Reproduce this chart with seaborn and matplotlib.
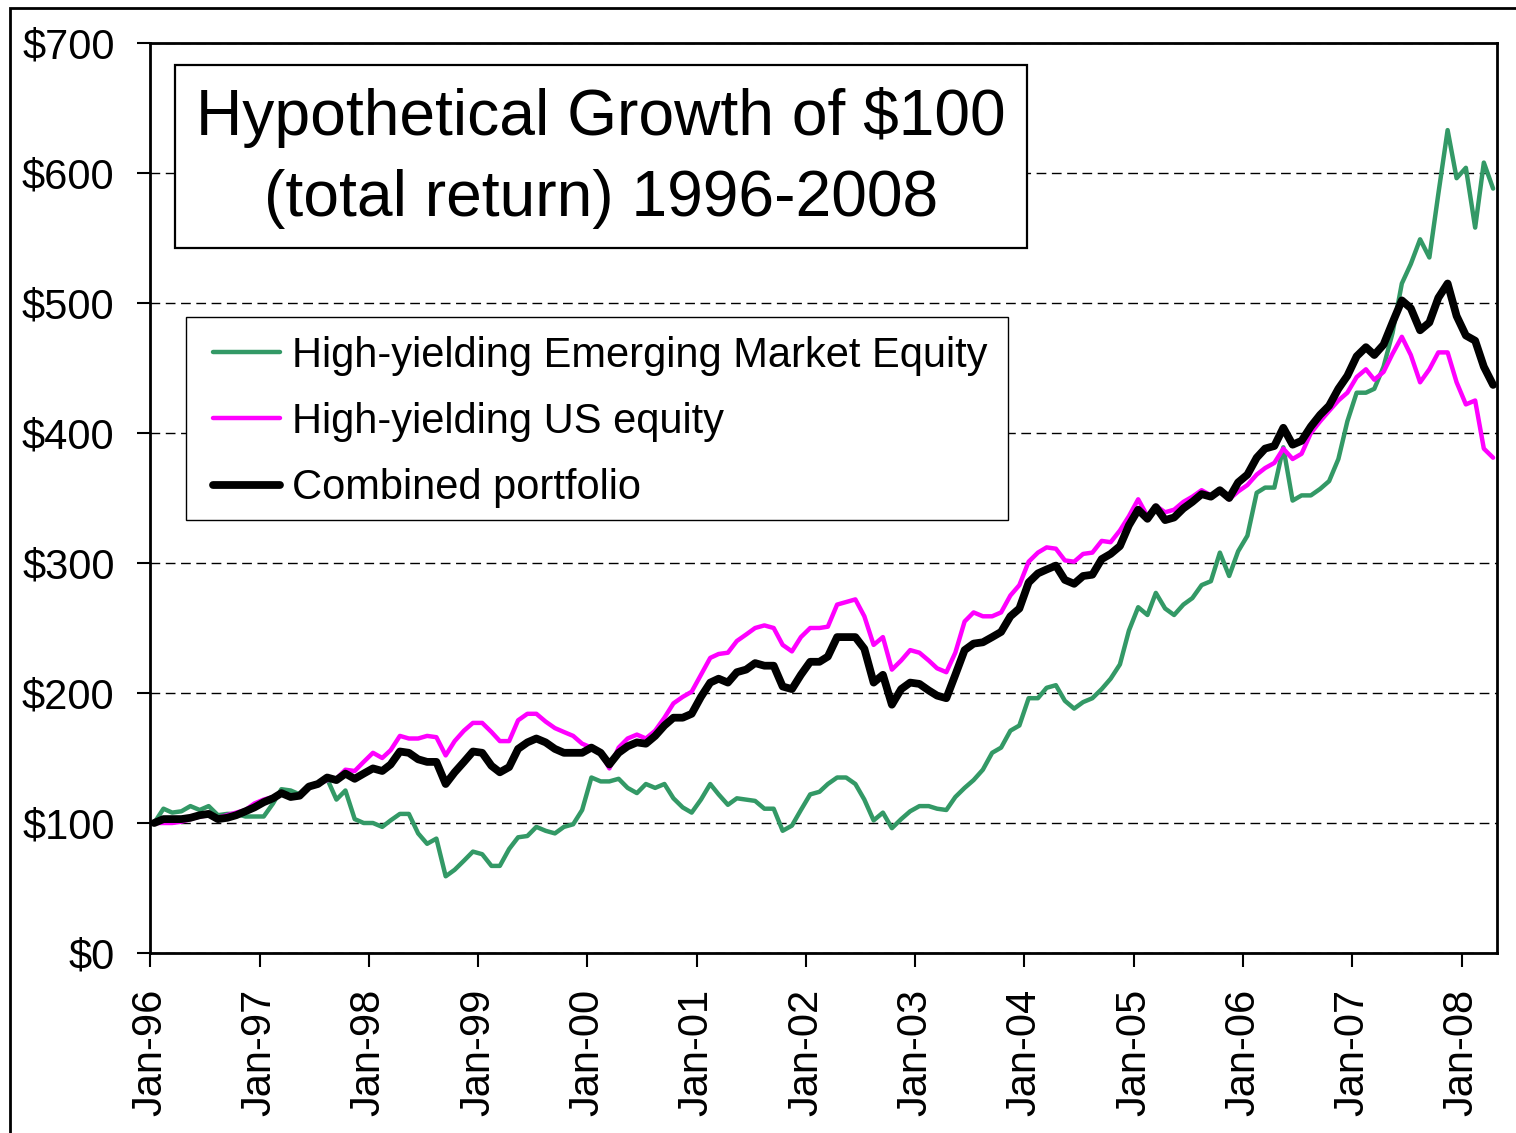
import numpy as np
import pandas as pd
import matplotlib
matplotlib.use("Agg")
import matplotlib.pyplot as plt
import matplotlib.dates as mdates
import matplotlib.patches as mpatches
import seaborn as sns

# ---------------- data ----------------
series_names = ["High-yielding Emerging Market Equity",
                "High-yielding US equity",
                "Combined portfolio"]

em_equity = [100, 111, 108, 109, 113, 110, 113, 106, 107, 107, 105, 105,
             105, 115, 126, 125, 122, 127, 130, 134, 118, 125, 103, 100,
             100, 97, 102, 107, 107, 92, 84, 88, 59, 64, 71, 78,
             76, 67, 67, 80, 89, 90, 97, 94, 92, 97, 99, 110,
             135, 132, 132, 134, 127, 123, 130, 127, 130, 119, 112, 108,
             118, 130, 122, 114, 119, 118, 117, 111, 111, 94, 98, 110,
             122, 124, 130, 135, 135, 130, 118, 102, 108, 96, 103, 109,
             113, 113, 111, 110, 120, 127, 133, 141, 154, 158, 171, 175,
             196, 196, 204, 206, 194, 188, 193, 196, 203, 211, 222, 248,
             266, 260, 277, 265, 260, 268, 273, 283, 286, 308, 290, 309,
             321, 354, 358, 358, 389, 348, 352, 352, 357, 363, 380, 409,
             431, 431, 434, 451, 477, 515, 530, 549, 535, 584, 633, 596,
             604, 558, 608, 588]

us_equity = [100, 100, 100, 101, 103, 105, 106, 104, 106, 108, 110, 115,
             118, 120, 122, 120, 121, 128, 130, 133, 134, 141, 140, 147,
             154, 150, 156, 167, 165, 165, 167, 166, 152, 163, 171, 177,
             177, 170, 163, 163, 179, 184, 184, 178, 173, 170, 167, 161,
             158, 154, 142, 158, 165, 168, 165, 171, 181, 192, 197, 201,
             214, 227, 230, 231, 240, 245, 250, 252, 250, 237, 232, 243,
             250, 250, 251, 268, 270, 272, 259, 237, 243, 218, 225, 233,
             231, 225, 219, 216, 231, 255, 262, 259, 259, 262, 275, 283,
             301, 308, 312, 311, 302, 301, 307, 308, 317, 316, 325, 336,
             349, 336, 344, 339, 341, 347, 351, 356, 352, 355, 349, 355,
             360, 368, 373, 377, 388, 380, 384, 400, 409, 417, 425, 431,
             443, 449, 441, 447, 461, 474, 460, 439, 449, 462, 462, 439,
             422, 425, 388, 381]

combined = [100, 103, 103, 103, 104, 106, 107, 103, 104, 106, 109, 112,
            116, 119, 123, 120, 121, 128, 130, 135, 133, 138, 134, 138,
            142, 140, 145, 155, 154, 149, 147, 147, 130, 139, 147, 155,
            154, 144, 139, 143, 157, 162, 165, 162, 157, 154, 154, 154,
            158, 154, 145, 154, 159, 162, 161, 167, 175, 181, 181, 184,
            197, 208, 211, 208, 216, 218, 223, 221, 221, 205, 203, 214,
            224, 224, 228, 243, 243, 243, 234, 208, 214, 191, 203, 208,
            207, 202, 198, 196, 214, 233, 238, 239, 243, 247, 259, 265,
            285, 292, 295, 298, 287, 284, 290, 291, 303, 307, 313, 329,
            341, 334, 343, 333, 335, 342, 347, 353, 351, 356, 350, 362,
            368, 381, 388, 390, 404, 391, 394, 405, 414, 421, 434, 444,
            459, 466, 460, 468, 485, 502, 496, 479, 485, 504, 515, 490,
            475, 471, 451, 437]

y_tick_values = [0, 100, 200, 300, 400, 500, 600, 700]
y_tick_labels = ["$0", "$100", "$200", "$300", "$400", "$500", "$600", "$700"]

title_lines = ["Hypothetical Growth of $100", "(total return) 1996-2008"]

# monthly observations, plotted mid-month
dates = pd.date_range("1996-01-01", periods=len(em_equity), freq="MS") + pd.Timedelta(days=14)

# ---------------- styling ----------------
sns.set_style("white")
plt.rcParams["font.family"] = ["Liberation Sans", "DejaVu Sans"]
plt.rcParams["text.color"] = "black"
plt.rcParams["axes.labelcolor"] = "black"
plt.rcParams["xtick.color"] = "black"
plt.rcParams["ytick.color"] = "black"

W, H = 1516, 1133
fig = plt.figure(figsize=(W / 100, H / 100), dpi=100)
fig.patch.set_facecolor("white")

L, R, T, B = 150, 1497, 43, 953
ax = fig.add_axes([L / W, (H - B) / H, (R - L) / W, (B - T) / H])

colors = ["#339966", "#FF00FF", "#000000"]
widths = [3.2, 3.2, 5.6]
for vals, name, c, lw in zip([em_equity, us_equity, combined], series_names, colors, widths):
    sns.lineplot(x=dates, y=vals, color=c, linewidth=lw, label=name, ax=ax,
                 solid_joinstyle="round", solid_capstyle="round")

ax.set_ylim(0, 700)
ax.set_xlim(mdates.date2num(pd.Timestamp("1996-01-01")),
            mdates.date2num(pd.Timestamp("2008-04-28")))
ax.set_yticks(y_tick_values)
ax.set_yticklabels(y_tick_labels)
ax.xaxis.set_major_locator(mdates.YearLocator())
ax.xaxis.set_major_formatter(mdates.DateFormatter("%b-%y"))
ax.set_xlabel("")
ax.set_ylabel("")

ax.yaxis.grid(True, color="black", linestyle=(0, (7, 4)), linewidth=1.0)
ax.xaxis.grid(False)
ax.set_axisbelow(True)

for s in ax.spines.values():
    s.set_visible(True)
    s.set_color("black")
    s.set_linewidth(2.0)

ax.tick_params(axis="y", direction="out", length=9.5, width=1.5, pad=16,
               labelsize=30, left=True, colors="black")
ax.tick_params(axis="x", direction="out", length=10, width=1.5, pad=16,
               labelsize=30, bottom=True, colors="black")
for lab in ax.get_xticklabels():
    lab.set_rotation(90)
    lab.set_ha("center")
    lab.set_va("top")

# legend: own frame box + frameless figure legend on top of it
handles, labels = ax.get_legend_handles_labels()
if ax.get_legend() is not None:
    ax.get_legend().remove()
fig.add_artist(mpatches.Rectangle((186 / W, 1 - 520 / H), (1008 - 186) / W, (520 - 317) / H,
                                  transform=fig.transFigure, facecolor="white",
                                  edgecolor="black", linewidth=1.0, zorder=4))
fig.legend(handles, labels, loc="upper left", bbox_to_anchor=(194 / W, 1 - 317 / H),
           bbox_transform=fig.transFigure, borderaxespad=0,
           prop={"size": 30.0}, frameon=False,
           handlelength=1.62, handletextpad=0.27, labelspacing=0.63,
           borderpad=0.45)

# title box
fig.add_artist(mpatches.Rectangle((175 / W, 1 - 248 / H), (1027 - 175) / W, (248 - 65) / H,
                                  transform=fig.transFigure, facecolor="white",
                                  edgecolor="black", linewidth=1.6, zorder=4))
cx = 601 / W
fig.text(cx, 1 - 135 / H, title_lines[0], ha="center", va="baseline", fontsize=46.2, zorder=6)
fig.text(cx, 1 - 216 / H, title_lines[1], ha="center", va="baseline", fontsize=46.2, zorder=6)

# outer chart border (left and top edges visible)
fig.add_artist(mpatches.Rectangle((10 / W, -0.05), 1.2, 1 - 8 / H + 0.05,
                                  transform=fig.transFigure, fill=False,
                                  edgecolor="black", linewidth=2.0, zorder=0))

fig.savefig("out.png", dpi=100)
